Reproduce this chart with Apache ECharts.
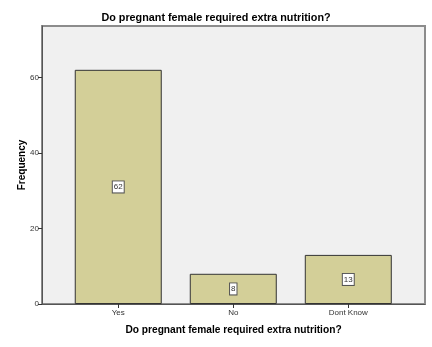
<!DOCTYPE html>
<html><head><meta charset="utf-8">
<script src="https://cdn.jsdelivr.net/npm/echarts@6/dist/echarts.min.js"></script>
<style>html,body{margin:0;padding:0;background:#fff}#c{width:432px;height:347px}</style>
</head><body><div id="c"></div>
<script>
const categories = ['Yes', 'No', 'Dont Know'];
const frequencies = [62, 8, 13];
const titleText = 'Do pregnant female required extra nutrition?';

const chart = echarts.init(document.getElementById('c'), null, {renderer: 'canvas'});
const catIdx = categories.map((_, i) => i);
chart.setOption({
  animation: false,
  backgroundColor: '#ffffff',
  title: {
    text: titleText, left: 'center', top: 8,
    textStyle: {fontFamily: 'Liberation Sans', fontSize: 10.8, fontWeight: 'bold', color: '#000'}
  },
  grid: {left: 42, right: 7, top: 26, bottom: 43, show: true,
    backgroundColor: '#f0f0f0', borderColor: '#8c8c8c', borderWidth: 2},
  xAxis: {
    type: 'value', min: -0.663, max: 2.667,
    name: titleText, nameLocation: 'middle', nameGap: 21,
    nameTextStyle: {fontFamily: 'Liberation Sans', fontSize: 10.2, fontWeight: 'bold', color: '#000'},
    splitLine: {show: false},
    axisLine: {show: true, onZero: false, lineStyle: {color: '#555', width: 1}},
    axisTick: {show: true, customValues: catIdx, length: 4, lineStyle: {color: '#333'}},
    axisLabel: {customValues: catIdx, formatter: v => categories[Math.round(v)] || '',
      fontFamily: 'Liberation Sans', fontSize: 8, color: '#333', margin: 5}
  },
  yAxis: {
    type: 'value', min: 0, max: 73.6, interval: 20,
    name: 'Frequency', nameLocation: 'middle', nameGap: 15, nameMoveOverlap: false,
    nameTextStyle: {fontFamily: 'Liberation Sans', fontSize: 10, fontWeight: 'bold', color: '#000'},
    splitLine: {show: false},
    axisLine: {show: true, onZero: false, lineStyle: {color: '#555', width: 1}},
    axisTick: {show: true, length: 4, lineStyle: {color: '#333'}},
    axisLabel: {showMaxLabel: false, fontFamily: 'Liberation Sans', fontSize: 8, color: '#333', margin: 3}
  },
  series: [{
    type: 'bar',
    data: frequencies.map((v, i) => [i, v]),
    barWidth: 87,
    itemStyle: {color: '#d3cf98', borderColor: '#333', borderWidth: 1},
    label: {show: true, position: 'inside', formatter: p => p.value[1],
      fontFamily: 'Liberation Sans', fontSize: 8, color: '#333',
      backgroundColor: '#fff', borderColor: '#555', borderWidth: 1, padding: [2, 1, 1, 1]}
  }]
});
</script></body></html>
